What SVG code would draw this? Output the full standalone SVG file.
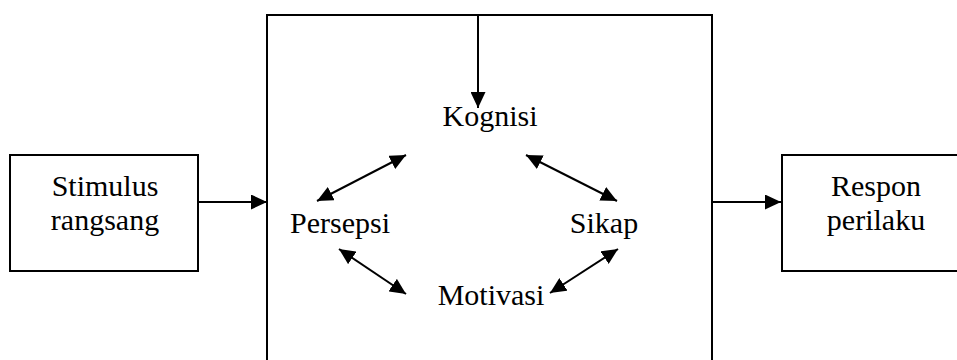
<svg xmlns="http://www.w3.org/2000/svg" width="957" height="360" viewBox="0 0 957 360">
  <style>
    .box { fill: none; stroke: #000; stroke-width: 2; }
    .lbl { font-family: 'Liberation Serif', 'Times New Roman', serif; font-size: 30px; fill: #000; text-anchor: middle; }
    .link { fill: none; stroke: #000; stroke-width: 2; }
    .one { marker-end: url(#head); }
    .two { marker-start: url(#head); marker-end: url(#head); }
  </style>
  <defs>
    <!-- solid triangular arrowhead, reused for single and double-headed links -->
    <marker id="head" viewBox="0 0 16 15" refX="16" refY="7.5" markerWidth="16" markerHeight="15" markerUnits="userSpaceOnUse" orient="auto-start-reverse">
      <path d="M0,0 L16,7.5 L0,15 z" fill="#000"/>
    </marker>
  </defs>
  <rect width="957" height="360" fill="#fff"/>

  <!-- input -->
  <g id="stimulus">
    <rect class="box" x="10" y="155" width="188" height="116"/>
    <text class="lbl" x="105" y="196">Stimulus</text>
    <text class="lbl" x="105" y="230">rangsang</text>
  </g>

  <!-- processing block, runs off the bottom of the sheet -->
  <g id="proses">
    <rect class="box" x="267" y="15" width="445" height="360"/>
  </g>

  <g id="kognisi">
    <text class="lbl" x="490" y="126">Kognisi</text>
  </g>
  <g id="persepsi">
    <text class="lbl" x="340" y="233">Persepsi</text>
  </g>
  <g id="sikap">
    <text class="lbl" x="604" y="233">Sikap</text>
  </g>
  <g id="motivasi">
    <text class="lbl" x="491" y="305">Motivasi</text>
  </g>

  <!-- output, runs off the right edge -->
  <g id="respon">
    <rect class="box" x="782" y="155" width="180" height="116"/>
    <text class="lbl" x="876" y="196">Respon</text>
    <text class="lbl" x="876" y="230">perilaku</text>
  </g>

  <g id="connectors">
    <line class="link one" x1="198" y1="202" x2="267" y2="202"/>
    <line class="link one" x1="712" y1="202" x2="781" y2="202"/>
    <line class="link one" x1="478" y1="15" x2="478" y2="108"/>
    <line class="link two" x1="317" y1="201" x2="406" y2="155"/>
    <line class="link two" x1="526" y1="155" x2="617" y2="201"/>
    <line class="link two" x1="339" y1="249" x2="406" y2="294"/>
    <line class="link two" x1="618" y1="249" x2="550" y2="293"/>
  </g>
</svg>
